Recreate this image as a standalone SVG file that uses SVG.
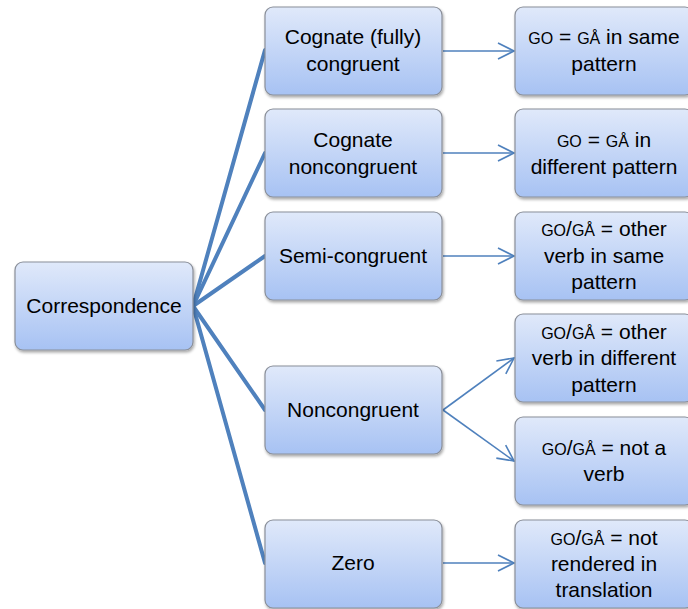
<svg xmlns="http://www.w3.org/2000/svg" width="688" height="609" viewBox="0 0 688 609">
<defs>
<linearGradient id="g" x1="0" y1="0" x2="0" y2="1">
<stop offset="0" stop-color="#e0e9fa"/>
<stop offset="1" stop-color="#a7c2f3"/>
</linearGradient>
<filter id="sh" x="-10%" y="-10%" width="130%" height="130%">
<feGaussianBlur in="SourceAlpha" stdDeviation="1.5"/>
<feOffset dx="1" dy="2" result="b"/>
<feComponentTransfer><feFuncA type="linear" slope="0.35"/></feComponentTransfer>
<feMerge><feMergeNode/><feMergeNode in="SourceGraphic"/></feMerge>
</filter>
<marker id="ah" viewBox="0 0 20 20" refX="18" refY="10" markerWidth="20" markerHeight="20" markerUnits="userSpaceOnUse" orient="auto">
<path d="M2,2 L18,10 L2,18" fill="none" stroke="#4f81bd" stroke-width="1.6"/>
</marker>
<style>
.box{fill:url(#g);stroke:#8a8f99;stroke-width:1.2;filter:url(#sh)}
text{font-family:"Liberation Sans",Arial,sans-serif;font-size:21px;fill:#000;text-anchor:middle}
.sc{font-size:16px}
.thick{stroke:#4f81bd;stroke-width:4;fill:none;stroke-linecap:round}
.thin{stroke:#4f81bd;stroke-width:1.6;fill:none;marker-end:url(#ah)}
</style>
</defs>
<g id="connectors">
<line class="thick" x1="193" y1="306" x2="265" y2="50"/>
<line class="thick" x1="193" y1="306" x2="265" y2="153"/>
<line class="thick" x1="193" y1="306" x2="265" y2="256"/>
<line class="thick" x1="193" y1="306" x2="265" y2="410"/>
<line class="thick" x1="193" y1="306" x2="265" y2="563"/>
<line class="thin" x1="443" y1="51" x2="514" y2="51"/>
<line class="thin" x1="443" y1="153" x2="514" y2="153"/>
<line class="thin" x1="443" y1="256" x2="514" y2="256"/>
<line class="thin" x1="443" y1="410" x2="514" y2="358"/>
<line class="thin" x1="443" y1="410" x2="514" y2="461"/>
<line class="thin" x1="443" y1="563" x2="514" y2="563"/>
</g>
<g id="root"><rect class="box" x="15" y="262" width="178" height="88" rx="8"/><text x="104" y="313">Correspondence</text></g>
<g id="m1"><rect class="box" x="265" y="7" width="177" height="88" rx="8"/><text x="353" y="44">Cognate (fully)</text><text x="353" y="71">congruent</text></g>
<g id="m2"><rect class="box" x="265" y="109" width="177" height="88" rx="8"/><text x="353" y="147">Cognate</text><text x="353" y="174">noncongruent</text></g>
<g id="m3"><rect class="box" x="265" y="212" width="177" height="88" rx="8"/><text x="353" y="263">Semi-congruent</text></g>
<g id="m4"><rect class="box" x="265" y="366" width="177" height="88" rx="8"/><text x="353" y="417">Noncongruent</text></g>
<g id="m5"><rect class="box" x="265" y="520" width="177" height="88" rx="8"/><text x="353" y="570">Zero</text></g>
<g id="r1"><rect class="box" x="515" y="7" width="178" height="88" rx="8"/><text x="604" y="44"><tspan class="sc">GO</tspan> = <tspan class="sc">GÅ</tspan> in same</text><text x="604" y="71">pattern</text></g>
<g id="r2"><rect class="box" x="515" y="109" width="178" height="88" rx="8"/><text x="604" y="147"><tspan class="sc">GO</tspan> = <tspan class="sc">GÅ</tspan> in</text><text x="604" y="174">different pattern</text></g>
<g id="r3"><rect class="box" x="515" y="212" width="178" height="88" rx="8"/><text x="604" y="236"><tspan class="sc">GO</tspan>/<tspan class="sc">GÅ</tspan> = other</text><text x="604" y="263">verb in same</text><text x="604" y="289">pattern</text></g>
<g id="r4"><rect class="box" x="515" y="314" width="178" height="88" rx="8"/><text x="604" y="339"><tspan class="sc">GO</tspan>/<tspan class="sc">GÅ</tspan> = other</text><text x="604" y="365">verb in different</text><text x="604" y="392">pattern</text></g>
<g id="r5"><rect class="box" x="515" y="417" width="178" height="88" rx="8"/><text x="604" y="455"><tspan class="sc">GO</tspan>/<tspan class="sc">GÅ</tspan> = not a</text><text x="604" y="481">verb</text></g>
<g id="r6"><rect class="box" x="515" y="520" width="178" height="88" rx="8"/><text x="604" y="545"><tspan class="sc">GO</tspan>/<tspan class="sc">GÅ</tspan> = not</text><text x="604" y="571">rendered in</text><text x="604" y="597">translation</text></g>
</svg>
